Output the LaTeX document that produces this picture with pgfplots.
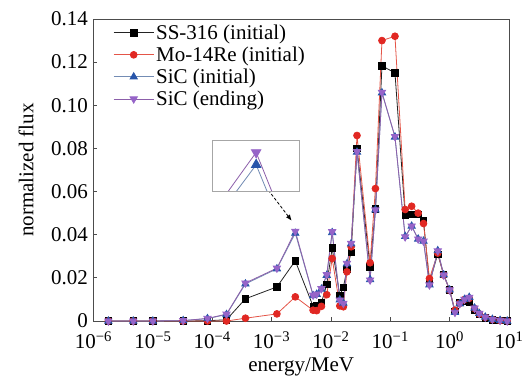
\documentclass[border=0pt]{standalone}
\usepackage{fontspec}
\setmainfont{Liberation Serif}
\usepackage{pgfplots}
\usepackage{pgfplotstable}
\pgfplotsset{compat=1.18}
\usetikzlibrary{arrows.meta}

\definecolor{ssline}{RGB}{35,35,35}
\definecolor{moline}{RGB}{228,85,72}
\definecolor{momark}{RGB}{225,40,35}
\definecolor{siciline}{RGB}{115,140,180}
\definecolor{sicimark}{RGB}{40,85,170}
\definecolor{siceline}{RGB}{140,95,170}
\definecolor{sicemark}{RGB}{150,100,200}

\pgfplotstableread{
E        ss      mo      sici    sice
1.78e-6  0       0       0       0
4.68e-6  0       0       0       0
1e-5     0       0       0       0
3.24e-5  0       0       0.0002  0.0002
8.32e-5  0.0001  0       0.0011  0.0012
1.74e-4  0.0006  0       0.0030  0.0032
3.63e-4  0.0103  0.0013  0.0172  0.0176
1.23e-3  0.0158  0.0033  0.0242  0.0245
2.51e-3  0.0279  0.0112  0.0407  0.0416
5.01e-3  0.0068  0.0050  0.0118  0.0120
5.75e-3  0.0072  0.0048  0.0124  0.0125
6.92e-3  0.0085  0.0068  0.0148  0.0150
8.51e-3  0.0170  0.0122  0.0212  0.0215
1.05e-2  0.0338  0.0290  0.0410  0.0414
1.41e-2  0.0120  0.0070  0.0098  0.0097
1.62e-2  0.0155  0.0066  0.0083  0.0082
1.86e-2  0.0240  0.0228  0.0265  0.0267
2.19e-2  0.0318  0.0344  0.0358  0.0360
2.75e-2  0.0800  0.0860  0.0783  0.0785
4.57e-2  0.0250  0.0270  0.0192  0.0190
5.62e-2  0.0520  0.0614  0.0515  0.0515
7.24e-2  0.1183  0.1300  0.1058  0.1060
1.20e-1  0.1150  0.1320  0.0853  0.0855
1.78e-1  0.0490  0.0517  0.0392  0.0390
2.29e-1  0.0495  0.0532  0.0440  0.0440
2.95e-1  0.0495  0.0500  0.0380  0.0380
3.63e-1  0.0465  0.0452  0.0370  0.0370
4.57e-1  0.0180  0.0197  0.0168  0.0167
6.31e-1  0.0310  0.0315  0.0326  0.0325
7.94e-1  0.0215  0.0213  0.0214  0.0213
1.0      0.0145  0.0143  0.0144  0.0144
1.23     0.0045  0.0050  0.0040  0.0040
1.48     0.0085  0.0082  0.0080  0.0080
1.78     0.0090  0.0100  0.0100  0.0100
2.14     0.0088  0.0105  0.0110  0.0110
2.63     0.0050  0.0058  0.0060  0.0060
3.16     0.0030  0.0033  0.0035  0.0035
3.98     0.0015  0.0017  0.0018  0.0018
5.25     0.0006  0.0007  0.0008  0.0008
7.08     0.0002  0.0002  0.0003  0.0003
9.33     0       0       0       0
}\data

\begin{document}
\begin{tikzpicture}
\begin{axis}[
  name=main,
  at={(0pt,0pt)}, anchor=south west,
  scale only axis,
  width=415.5pt, height=302pt,
  xmode=log,
  xmin=1e-6, xmax=1e1,
  ymin=0, ymax=0.14,
  xtick={1e-6,1e-5,1e-4,1e-3,1e-2,1e-1,1e0,1e1},
  xticklabels={10\textsuperscript{−6},10\textsuperscript{−5},10\textsuperscript{−4},10\textsuperscript{−3},10\textsuperscript{−2},10\textsuperscript{−1},10\textsuperscript{0},10\textsuperscript{1}},
  xminorticks=false,
  ytick={0,0.02,0.04,0.06,0.08,0.10,0.12,0.14},
  yticklabels={0,0.02,0.04,0.06,0.08,0.10,0.12,0.14},
  tick pos=left,
  tick align=inside,
  major tick length=4pt,
  tick style={gray!60!black, line width=0.8pt},
  axis line style={gray!60!black, line width=1pt},
  tick label style={font=\fontsize{21}{23}\selectfont},
  xticklabel style={yshift=-7pt},
  yticklabel style={xshift=-2pt},
  label style={font=\fontsize{21}{23}\selectfont},
  xlabel={energy/MeV},
  ylabel={normalized flux},
  xlabel style={at={(axis description cs:0.5,-0.152)}, anchor=center},
  ylabel style={at={(axis description cs:-0.162,0.5)}, anchor=center},
  legend style={font=\fontsize{21}{23}\selectfont, draw=none, fill=none,
    at={(axis description cs:0.04,0.995)}, anchor=north west, row sep=2pt},
  legend cell align=left,
  legend image code/.code={\draw[mark repeat=2,mark phase=2,#1] plot coordinates {(0pt,0pt) (20pt,0pt) (40pt,0pt)};},
  every axis plot/.append style={line width=0.8pt},
]
\addplot[color=ssline, mark=square*, mark size=3.2pt, mark options={fill=black, draw=black, solid}] table[x=E, y=ss] {\data};
\addlegendentry{SS-316 (initial)}
\addplot[color=moline, mark=*, mark size=3.4pt, mark options={fill=momark, draw=momark, solid}] table[x=E, y=mo] {\data};
\addlegendentry{Mo-14Re (initial)}
\addplot[color=siciline, mark=triangle*, mark size=4.2pt, mark options={fill=sicimark, draw=sicimark, solid}] table[x=E, y=sici] {\data};
\addlegendentry{SiC (initial)}
\addplot[color=siceline, mark=triangle*, mark size=4.2pt, mark options={fill=sicemark, draw=sicemark, solid, rotate=180}] table[x=E, y=sice] {\data};
\addlegendentry{SiC (ending)}
\draw[black, line width=0.8pt, densely dashed, -{Latex[length=6pt,width=5pt]}] (axis cs:8.8e-4,0.0607) -- (axis cs:2.18e-3,0.0465);
\end{axis}
\begin{axis}[
  at={(119.2pt,130pt)}, anchor=south west,
  scale only axis,
  width=86.6pt, height=51pt,
  xmode=log,
  xmin=2.09e-3, xmax=3.01e-3,
  ymin=0.0388, ymax=0.0425,
  xtick=\empty, ytick=\empty,
  axis line style={gray!70, line width=0.8pt},
  axis background/.style={fill=white},
  every axis plot/.append style={line width=0.8pt},
]
\addplot[color=siciline, mark=triangle*, mark size=5.5pt, mark options={fill=sicimark, draw=sicimark, solid}] table[x=E, y=sici] {\data};
\addplot[color=siceline, mark=triangle*, mark size=5.5pt, mark options={fill=sicemark, draw=sicemark, solid, rotate=180}] table[x=E, y=sice] {\data};
\end{axis}
\pgfresetboundingbox
\path[use as bounding box] (-93.5pt,-55pt) rectangle (438.5pt,321pt);
\end{tikzpicture}
\end{document}
